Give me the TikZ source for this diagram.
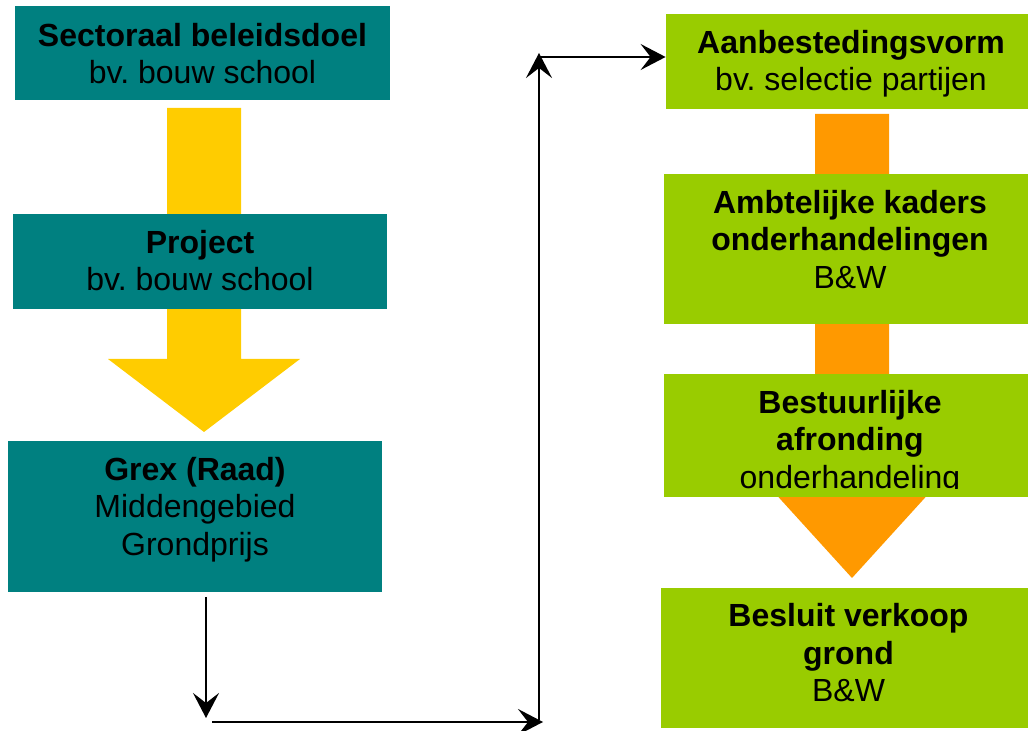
\documentclass[tikz,border=0pt]{standalone}
\usepackage{fontspec}
\setmainfont{Liberation Sans}
\frenchspacing
\usetikzlibrary{arrows.meta,positioning}
\definecolor{grexteal}{HTML}{008080}
\definecolor{kaderlime}{HTML}{99CC00}
\definecolor{flowamber}{HTML}{FFCC00}
\definecolor{flowtangerine}{HTML}{FF9900}

\begin{document}
\begin{tikzpicture}[
    x=0.5pt, y=-0.5pt,
    card/.style={rectangle, inner sep=0pt},
    tealcard/.style={card, fill=grexteal},
    limecard/.style={card, fill=kaderlime},
    cardtext/.style={inner sep=0pt, align=center, font=\fontsize{16}{18.7}\selectfont},
    arr/.style={-{Stealth[length=12.5pt, width=13pt, inset=5pt]}, line width=1pt},
  ]
  \useasboundingbox (0,0) rectangle (1028,731);

  % Big block arrows (behind the cards)
  \fill[flowamber] (167,108) -- (241,108) -- (241,359) -- (300,359) -- (204,432)
    -- (108,359) -- (167,359) -- cycle;
  \fill[flowtangerine] (815,114) -- (889,114) -- (889,490) -- (932,490) -- (852,578)
    -- (772,490) -- (815,490) -- cycle;

  % Left column
  \node[tealcard, minimum width=187.5pt, minimum height=47pt] (sector) at (202.5,53) {};
  \node[tealcard, minimum width=187pt, minimum height=47.5pt] (project) at (200,261.5) {};
  \node[tealcard, minimum width=187pt, minimum height=75.5pt] (grex) at (195,516.5) {};

  \node[cardtext, below=7pt of sector.north] (sectortxt)
    {\strut\textbf{Sectoraal beleidsdoel}\\bv. bouw school};
  \node[cardtext, below=6.6pt of project.north] (projecttxt)
    {\strut\textbf{Project}\\bv. bouw school};
  \node[cardtext, below=6.6pt of grex.north] (grextxt)
    {\strut\textbf{Grex (Raad)}\\Middengebied\\Grondprijs};

  % Right column
  \node[limecard, minimum width=185pt, minimum height=47.5pt] (aanbest) at (851,61.5) {};
  \node[limecard, minimum width=186pt, minimum height=75pt] (ambt) at (850,249) {};
  \node[limecard, minimum width=186pt, minimum height=61.5pt] (bestuur) at (850,435.5) {};
  \node[limecard, minimum width=187.5pt, minimum height=70pt] (besluit) at (848.5,658) {};

  \node[cardtext, below=6.6pt of aanbest.north] (aanbesttxt)
    {\strut\textbf{Aanbestedingsvorm}\\bv. selectie partijen};
  \node[cardtext, below=6.6pt of ambt.north] (ambttxt)
    {\strut\textbf{Ambtelijke kaders}\\\textbf{onderhandelingen}\\B\&W};
  \begin{scope}
    \clip (bestuur.north west) rectangle ([yshift=4.5pt]bestuur.south east);
    \node[cardtext, below=6.6pt of bestuur.north] (bestuurtxt)
      {\strut\textbf{Bestuurlijke}\\\textbf{afronding}\\onderhandeling};
  \end{scope}
  \node[cardtext, below=6.4pt of besluit.north] (besluittxt)
    {\strut\textbf{Besluit verkoop}\\\textbf{grond}\\B\&W};

  % Connectors
  \coordinate (grexout) at (206,597);
  \coordinate (dropend) at (206,718);
  \coordinate (runstart) at (212,722);
  \coordinate (runend) at (543,722);
  \coordinate (climbstart) at (539,720);
  \coordinate (climbend) at (539,53);
  \coordinate (feedstart) at (539,57);

  \draw[arr] (grexout) -- (dropend);
  \draw[arr] (runstart) -- (runend);
  \draw[arr] (climbstart) -- (climbend);
  \draw[arr] (feedstart) -- (feedstart -| aanbest.west);
\end{tikzpicture}
\end{document}
